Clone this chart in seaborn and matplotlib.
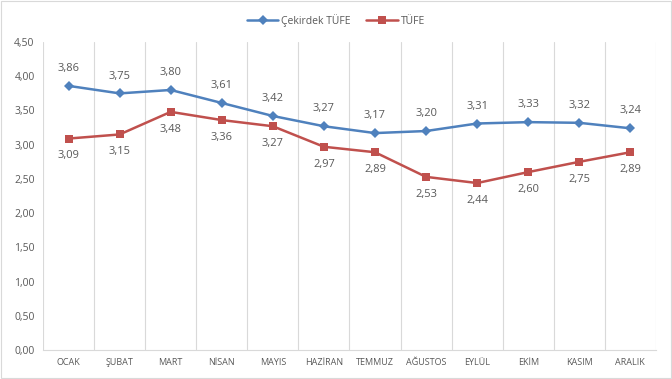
import matplotlib
matplotlib.use("Agg")
import matplotlib.pyplot as plt
import seaborn as sns
import pandas as pd
import numpy as np

months = ["OCAK", "ŞUBAT", "MART", "NİSAN", "MAYIS", "HAZİRAN",
          "TEMMUZ", "AĞUSTOS", "EYLÜL", "EKİM", "KASIM", "ARALIK"]
core_cpi = [3.86, 3.75, 3.80, 3.61, 3.42, 3.27, 3.17, 3.20, 3.31, 3.33, 3.32, 3.24]
cpi = [3.09, 3.15, 3.48, 3.36, 3.27, 2.97, 2.89, 2.53, 2.44, 2.60, 2.75, 2.89]
series_names = ["Çekirdek TÜFE", "TÜFE"]
yticks = np.arange(0, 4.51, 0.5)

df = pd.DataFrame({
    "month": months * 2,
    "value": core_cpi + cpi,
    "series": [series_names[0]] * 12 + [series_names[1]] * 12,
})

sns.set_style("white")
plt.rcParams["font.family"] = ["Open Sans", "DejaVu Sans"]

fig = plt.figure(figsize=(6.72, 3.79), dpi=100)
ax = fig.add_axes([0.064, 0.0765, 0.912, 0.8125])

palette = {series_names[0]: "#4F81BD", series_names[1]: "#C0504D"}
sns.lineplot(data=df, x="month", y="value", hue="series", style="series",
             markers={series_names[0]: "D", series_names[1]: "s"},
             dashes=False, palette=palette, linewidth=1.8, markersize=5.5,
             markeredgewidth=0, sort=False, ax=ax, legend=False)

label_color = "#595959"
for i, (a, b) in enumerate(zip(core_cpi, cpi)):
    ax.annotate(f"{a:.2f}".replace(".", ","), (i, a), xytext=(0, 8.5),
                textcoords="offset points", ha="center", va="bottom",
                fontsize=8, color=label_color)
    ax.annotate(f"{b:.2f}".replace(".", ","), (i, b), xytext=(0, -8.5),
                textcoords="offset points", ha="center", va="top",
                fontsize=8, color=label_color)

ax.set_xlim(-0.5, 11.5)
ax.set_ylim(0, 4.5)
ax.set_yticks(yticks)
ax.set_yticklabels([f"{v:.2f}".replace(".", ",") for v in yticks],
                   fontsize=7.5, color=label_color)
ax.set_xticks(range(12))
ax.set_xticklabels(months, fontsize=6.5, color=label_color)
ax.set_xticks(np.arange(-0.5, 12, 1), minor=True)
ax.grid(which="minor", axis="x", color="#D9D9D9", linewidth=0.8)
ax.tick_params(axis="both", which="both", length=0, pad=6)
ax.set_xlabel("")
ax.set_ylabel("")
for side in ["top", "right", "left"]:
    ax.spines[side].set_visible(False)
ax.spines["bottom"].set_color("#D9D9D9")

handles = [plt.Line2D([], [], color=palette[s], marker=m, markersize=5.5,
                      markeredgewidth=0, linewidth=1.8)
           for s, m in zip(series_names, ["D", "s"])]
fig.legend(handles, series_names, loc="center", bbox_to_anchor=(0.5, 0.947),
           ncol=2, frameon=False, fontsize=7.5, handlelength=3,
           columnspacing=1.5, handletextpad=0.3, labelcolor=label_color)

fig.patches.append(plt.Rectangle((0.002, 0.003), 0.996, 0.994, transform=fig.transFigure,
                                 fill=False, edgecolor="#D9D9D9", linewidth=0.8))

fig.savefig("out.png", dpi=100)
